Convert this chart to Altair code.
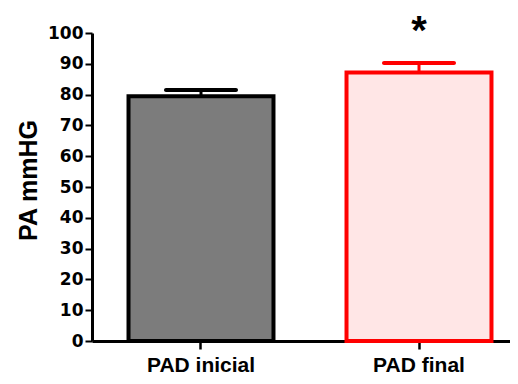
import altair as alt
import pandas as pd

categories = ["PAD inicial", "PAD final"]
means = [79.5, 87.2]
upper = [81.5, 90.3]
markers = ["", "*"]
y_ticks = list(range(0, 101, 10))

df = pd.DataFrame({"grupo": categories, "media": means, "sup": upper, "sig": markers})

x_axis = alt.Axis(
    title=None, labelAngle=0, labelFont="Liberation Sans", labelFontSize=21,
    labelFontWeight="bold", labelColor="black", labelBaseline="alphabetic",
    labelPadding=22, tickSize=8, tickWidth=2.5, tickColor="black",
    domainColor="black", domainWidth=3, grid=False, labelOverlap=False,
)
x = alt.X(
    "grupo:N",
    sort=categories,
    scale=alt.Scale(range=[0, 436], paddingInner=0.335, paddingOuter=0.1675),
    axis=x_axis,
)
yscale = alt.Scale(domain=[0, 100], nice=False)
y_axis = alt.Axis(
    title="PA mmHG", values=y_ticks, tickCount=11, grid=False, labelOverlap=False,
    labelFont="DejaVu Sans", labelFontSize=17, labelFontWeight="bold",
    labelColor="black", labelPadding=2, tickSize=7, tickWidth=2,
    tickColor="black", domainColor="black", domainWidth=3,
    titleFont="Liberation Sans", titleFontSize=25, titleFontWeight="bold",
    titleColor="black", titleAngle=270, titleX=-56, titleY=147,
    titleAlign="center", titleBaseline="alphabetic",
)

fill = alt.Fill("grupo:N", scale=alt.Scale(domain=categories, range=["#7c7c7c", "#ffe6e6"]), legend=None)
stroke = alt.Stroke("grupo:N", scale=alt.Scale(domain=categories, range=["#000000", "#ff0000"]), legend=None)
color = alt.Color("grupo:N", scale=alt.Scale(domain=categories, range=["#000000", "#ff0000"]), legend=None)

base = alt.Chart(df)

bars = base.mark_bar(strokeWidth=4).encode(
    x=x, y=alt.Y("media:Q", scale=yscale, axis=y_axis), fill=fill, stroke=stroke
)
stems = base.mark_rule(strokeWidth=3).encode(
    x=x, y=alt.Y("media:Q", scale=yscale, axis=y_axis), y2="sup:Q", color=color
)
caps = base.mark_tick(size=74, thickness=4, orient="horizontal", cornerRadius=2, opacity=1).encode(
    x=x, y=alt.Y("sup:Q", scale=yscale, axis=y_axis), color=color
)
stars = base.mark_text(
    font="Liberation Sans", fontSize=40, fontWeight="bold", baseline="alphabetic",
    dy=-19, color="black",
).encode(x=x, y=alt.Y("sup:Q", scale=yscale, axis=y_axis), text="sig:N")

chart = (
    alt.layer(bars, stems, caps, stars)
    .properties(
        width=418, height=308,
        autosize=alt.AutoSizeParams(type="none"),
        padding={"left": 84, "top": 25, "right": 0, "bottom": 35},
        background="white",
    )
    .configure_view(stroke=None)
)

chart.save("out.html", embed_options={"renderer": "svg", "actions": False})
